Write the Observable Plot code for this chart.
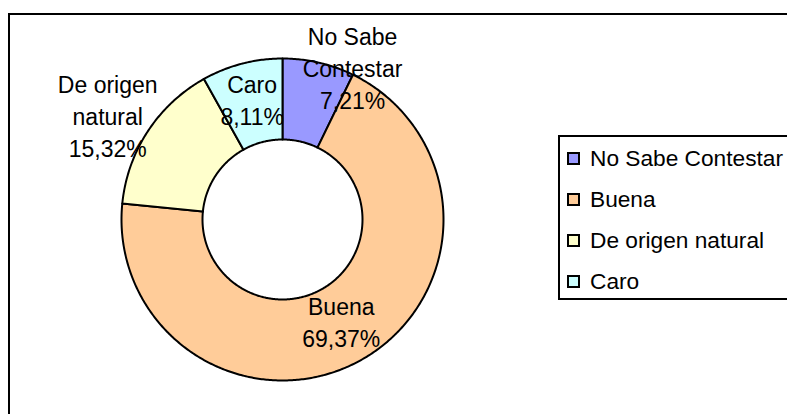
<!DOCTYPE html>
<html>
<head>
<meta charset="utf-8">
<script src="https://cdn.jsdelivr.net/npm/d3@7"></script>
<script src="https://cdn.jsdelivr.net/npm/@observablehq/plot@0.6"></script>
<style>
  html, body { margin: 0; padding: 0; background: #fff; }
  #wrap { position: relative; width: 787px; height: 414px; overflow: hidden; font-family: "Liberation Sans", Arial, sans-serif; }
  #frame { position: absolute; left: 8px; top: 13px; width: 800px; height: 420px; border: 2px solid #000; box-sizing: border-box; pointer-events: none; }
  #legend { position: absolute; left: 558px; top: 135px; width: 260px; height: 165px; border: 2px solid #000; box-sizing: border-box; background: #fff; }
  .row { position: absolute; left: 7px; height: 41px; display: flex; align-items: center; font-size: 22.7px; color: #000; white-space: nowrap; }
  .sw { width: 13px; height: 13px; box-sizing: border-box; border: 2px solid #000; margin-right: 10px; flex: none; }
  #chart { position: absolute; left: 0; top: 0; }
</style>
</head>
<body>
<div id="wrap">
  <div id="chart"></div>
  <div id="frame"></div>
  <div id="legend"></div>
</div>
<script>
// ---- data ----
const categories = ["No Sabe Contestar", "Buena", "De origen natural", "Caro"];
const percents = [7.21, 69.37, 15.32, 8.11];
const colors = ["#9999FF", "#FFCC99", "#FFFFCC", "#CCFFFF"];

// ---- layout ----
const W = 787, H = 414;
const cx = 282, cy = 219, R = 161, r0 = 80;   // pixels
const unit = R; // pixels per data unit
const innerFrac = r0 / R;
const fmt = v => v.toFixed(2).replace(".", ",") + "%";
// label nudges (pixels) for labels Excel moved out of the ring
const nudge = {"No Sabe Contestar": [43, -31], "De origen natural": [-74, -35]};

const rows = categories.map((c, i) => ({cat: c, value: percents[i], color: colors[i]}));
const arcs = d3.pie().sort(null).value(d => d.value)(rows);

function polygon(a) {
  const n = Math.max(8, Math.ceil((a.endAngle - a.startAngle) / 0.01));
  const pts = [];
  for (let k = 0; k <= n; k++) {
    const t = a.startAngle + (a.endAngle - a.startAngle) * k / n;
    pts.push({x: Math.sin(t), y: Math.cos(t)});
  }
  for (let k = n; k >= 0; k--) {
    const t = a.startAngle + (a.endAngle - a.startAngle) * k / n;
    pts.push({x: innerFrac * Math.sin(t), y: innerFrac * Math.cos(t)});
  }
  pts.push(pts[0]);
  return pts;
}

const labels = arcs.map(a => {
  const mid = (a.startAngle + a.endAngle) / 2;
  const rm = (1 + innerFrac) / 2;
  const nd = nudge[a.data.cat] || [0, 0];
  return {
    x: rm * Math.sin(mid) + nd[0] / unit,
    y: rm * Math.cos(mid) - nd[1] / unit,
    text: a.data.cat + "\n" + fmt(a.data.value)
  };
});

const sliceMarks = arcs.map(a =>
  Plot.line(polygon(a), {x: "x", y: "y", fill: a.data.color, stroke: "#000", strokeWidth: 2, strokeLinejoin: "round"})
);

const chart = Plot.plot({
  width: W, height: H,
  margin: 0,
  x: {domain: [-cx / unit, (W - cx) / unit], range: [0, W], axis: null},
  y: {domain: [(cy - H) / unit, cy / unit], range: [H, 0], axis: null},
  style: {fontFamily: "'Liberation Sans', Arial, sans-serif", background: "transparent"},
  marks: [
    ...sliceMarks,
    Plot.text(labels, {x: "x", y: "y", text: "text", fontSize: 23, lineWidth: 5, lineHeight: 1.39, lineAnchor: "middle", textAnchor: "middle", dy: -4, fill: "#000"})
  ]
});
document.getElementById("chart").appendChild(chart);

// ---- legend ----
const legend = document.getElementById("legend");
rows.forEach((d, i) => {
  const row = document.createElement("div");
  row.className = "row";
  row.style.top = (i * 41 + 0.5) + "px";
  const sw = document.createElement("div");
  sw.className = "sw";
  sw.style.background = d.color;
  const tx = document.createElement("span");
  tx.textContent = d.cat;
  row.appendChild(sw);
  row.appendChild(tx);
  legend.appendChild(row);
});
</script>
</body>
</html>
